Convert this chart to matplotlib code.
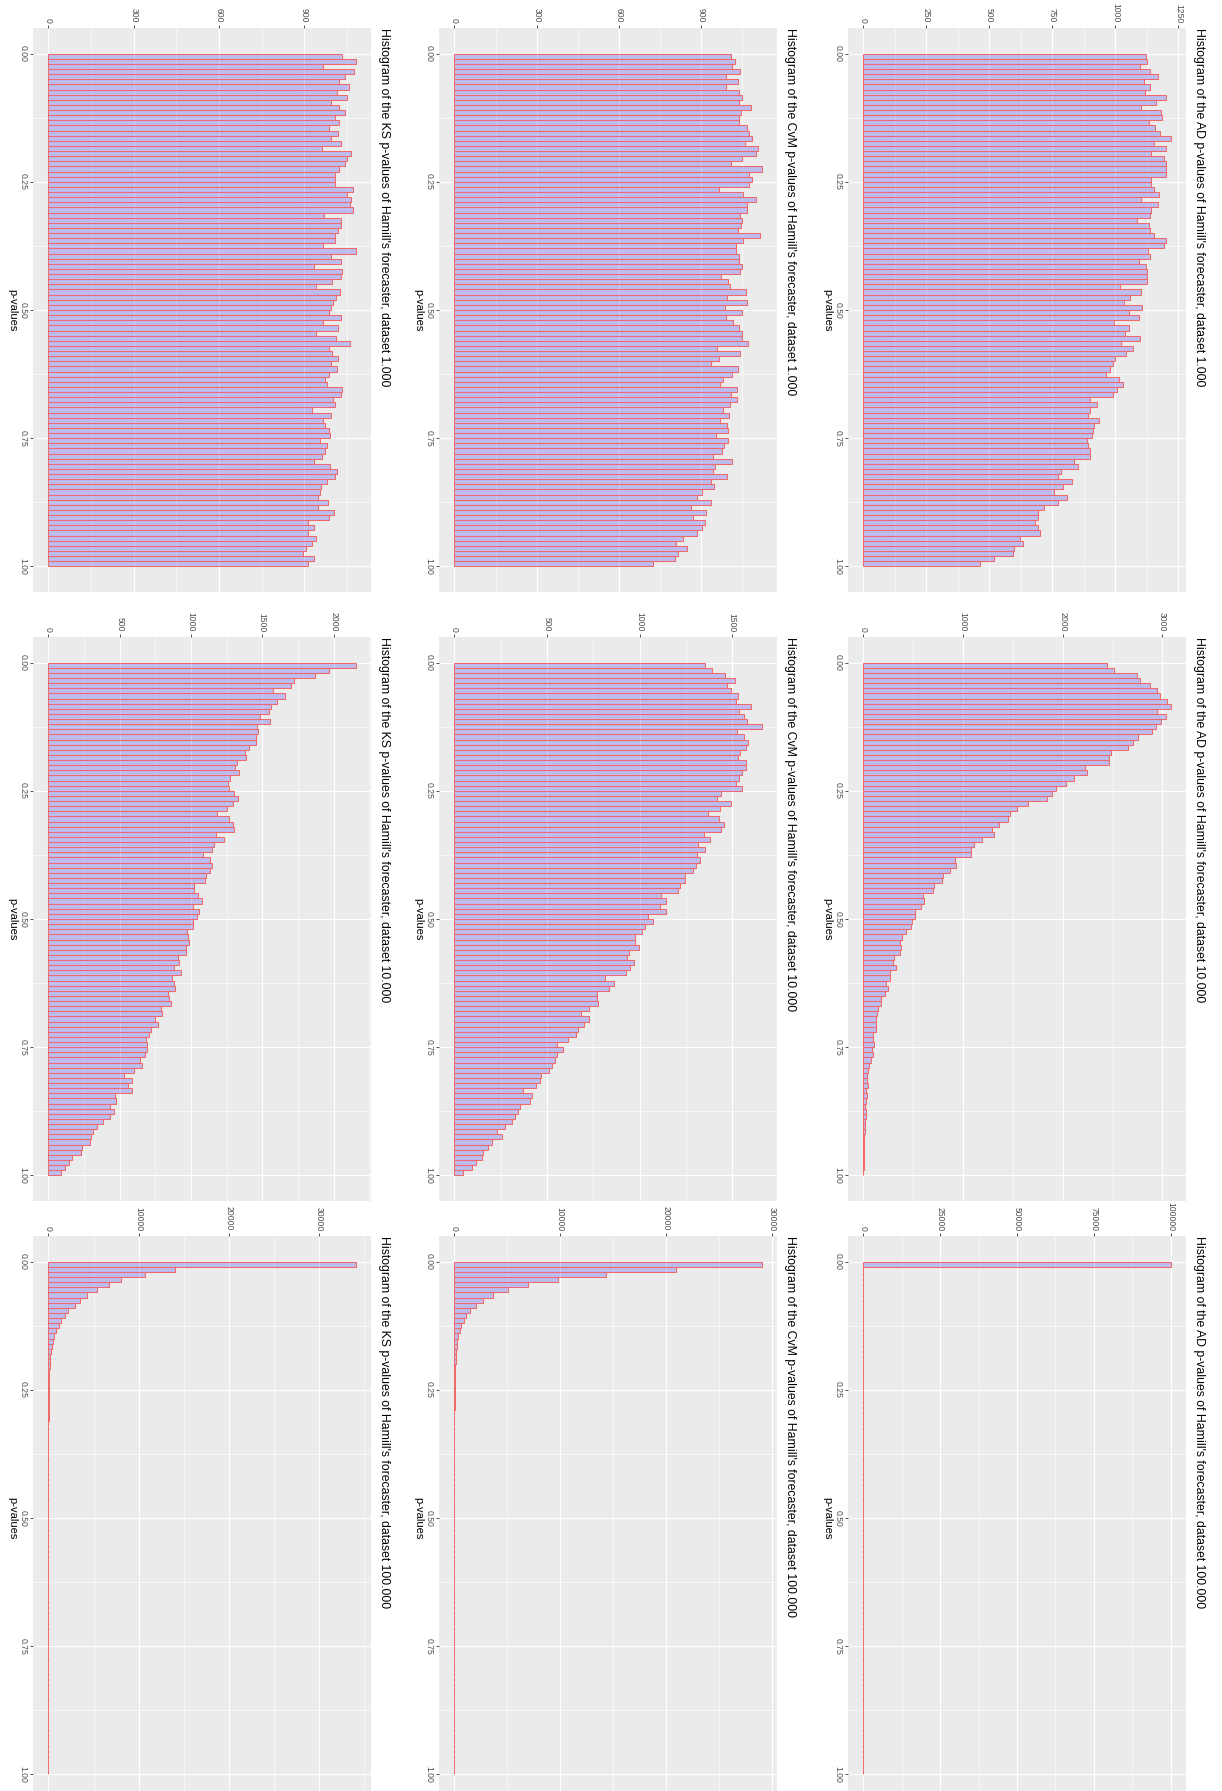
import numpy as np
import matplotlib
matplotlib.use('Agg')
import matplotlib.pyplot as plt
from matplotlib.ticker import MultipleLocator, FixedLocator, FuncFormatter

plt.rcParams['font.family'] = ['Liberation Sans', 'DejaVu Sans']

# ---------------- data (counts per p-value bin of width 0.01) ----------------
tests = ["AD", "CvM", "KS"]
sizes = ["1.000", "10.000", "100.000"]
p_ticks = [0.0, 0.25, 0.5, 0.75, 1.0]
p_tick_labels = ["0.00", "0.25", "0.50", "0.75", "1.00"]

ad_1000 = [1120, 1126, 1096, 1136, 1169, 1113, 1136, 1117, 1202, 1162,
           1100, 1179, 1186, 1133, 1157, 1177, 1219, 1153, 1202, 1143,
           1193, 1202, 1202, 1202, 1143, 1143, 1153, 1173, 1100, 1169,
           1143, 1136, 1087, 1133, 1136, 1153, 1199, 1193, 1129, 1138,
           1093, 1120, 1124, 1126, 1126, 1018, 1100, 1056, 1034, 1106,
           1053, 1093, 994, 1053, 1036, 1096, 1023, 1069, 1043, 1000,
           991, 978, 963, 1014, 1030, 1007, 990, 898, 928, 898,
           892, 935, 914, 910, 908, 888, 890, 898, 898, 837,
           851, 784, 772, 828, 791, 758, 806, 771, 716, 692,
           693, 680, 692, 702, 620, 632, 596, 594, 517, 461]

ad_10000 = [2441, 2514, 2742, 2772, 2872, 2949, 2973, 3043, 3083, 2949,
            3033, 2983, 2939, 2899, 2755, 2702, 2655, 2484, 2464, 2464,
            2223, 2243, 2112, 2029, 1932, 1892, 1838, 1650, 1537, 1476,
            1450, 1356, 1292, 1306, 1188, 1108, 1081, 1081, 924, 934,
            874, 800, 787, 713, 703, 603, 613, 579, 522, 522,
            492, 475, 432, 392, 365, 382, 365, 311, 298, 325,
            271, 264, 224, 251, 214, 177, 174, 151, 141, 124,
            127, 131, 100, 97, 107, 90, 100, 80, 60, 50,
            40, 40, 44, 27, 40, 30, 17, 30, 23, 17,
            20, 12, 10, 8, 7, 5, 4, 3, 2, 1]

ad_100000 = [99960, 28, 8, 3, 1, 0, 0, 0, 0, 0,
             0, 0, 0, 0, 0, 0, 0, 0, 0, 0,
             0, 0, 0, 0, 0, 0, 0, 0, 0, 0,
             0, 0, 0, 0, 0, 0, 0, 0, 0, 0,
             0, 0, 0, 0, 0, 0, 0, 0, 0, 0,
             0, 0, 0, 0, 0, 0, 0, 0, 0, 0,
             0, 0, 0, 0, 0, 0, 0, 0, 0, 0,
             0, 0, 0, 0, 0, 0, 0, 0, 0, 0,
             0, 0, 0, 0, 0, 0, 0, 0, 0, 0,
             0, 0, 0, 0, 0, 0, 0, 0, 0, 0]

cvm_1000 = [1007, 1023, 1011, 1041, 990, 1035, 990, 1039, 1047, 1039,
            1083, 1045, 1039, 1037, 1065, 1075, 1086, 1059, 1108, 1098,
            1047, 1007, 1120, 1075, 1086, 1075, 964, 1053, 1098, 1068,
            1068, 1041, 1047, 1043, 1035, 1114, 1051, 1025, 1025, 1039,
            1039, 1049, 1041, 972, 998, 1005, 1063, 995, 1068, 986,
            1049, 989, 1017, 1039, 1049, 1049, 1069, 956, 1041, 966,
            934, 1035, 1013, 980, 968, 1031, 1008, 1029, 1005, 980,
            1002, 968, 992, 998, 952, 996, 984, 974, 944, 1013,
            951, 944, 995, 934, 947, 901, 883, 935, 862, 918,
            871, 915, 904, 883, 834, 807, 847, 816, 805, 725]

cvm_10000 = [1353, 1388, 1460, 1513, 1469, 1491, 1529, 1520, 1601, 1538,
             1565, 1579, 1658, 1523, 1565, 1583, 1572, 1540, 1529, 1574,
             1576, 1550, 1534, 1518, 1552, 1439, 1415, 1493, 1432, 1367,
             1426, 1453, 1439, 1345, 1378, 1313, 1353, 1308, 1324, 1304,
             1288, 1245, 1246, 1216, 1207, 1115, 1142, 1110, 1142, 1043,
             1070, 1029, 1013, 975, 975, 998, 944, 930, 971, 948,
             924, 815, 863, 836, 770, 770, 773, 725, 683, 725,
             701, 669, 658, 613, 554, 585, 554, 543, 527, 511,
             468, 460, 441, 369, 419, 410, 353, 342, 329, 309,
             275, 228, 255, 201, 182, 156, 147, 117, 94, 49]

cvm_100000 = [29026, 20927, 14277, 9770, 6933, 5106, 3687, 2710, 2017, 1513,
              1135, 914, 599, 504, 378, 284, 220, 189, 150, 120,
              95, 75, 60, 48, 38, 30, 24, 19, 15, 12,
              10, 8, 6, 5, 4, 3, 3, 2, 2, 1,
              1, 1, 0, 0, 0, 0, 0, 0, 0, 0,
              0, 0, 0, 0, 0, 0, 0, 0, 0, 0,
              0, 0, 0, 0, 0, 0, 0, 0, 0, 0,
              0, 0, 0, 0, 0, 0, 0, 0, 0, 0,
              0, 0, 0, 0, 0, 0, 0, 0, 0, 0,
              0, 0, 0, 0, 0, 0, 0, 0, 0, 0]

ks_1000 = [1033, 1080, 966, 1076, 1041, 1023, 1056, 1013, 1048, 993,
           1023, 1042, 1006, 1023, 988, 1019, 992, 1030, 962, 1064,
           1050, 1041, 1023, 1006, 1006, 1009, 1070, 1050, 1063, 1061,
           1072, 968, 1029, 1027, 1019, 1006, 1009, 966, 1080, 992,
           1030, 935, 1033, 1029, 998, 941, 1026, 1012, 1001, 995,
           988, 1029, 966, 1018, 939, 1012, 1059, 988, 998, 1019,
           994, 1015, 988, 974, 978, 1033, 1029, 1001, 1006, 925,
           992, 965, 974, 988, 989, 953, 980, 972, 962, 935,
           989, 1013, 1009, 980, 960, 953, 948, 982, 948, 1003,
           988, 911, 935, 913, 941, 927, 907, 896, 934, 911]

ks_10000 = [2154, 1970, 1869, 1722, 1698, 1577, 1661, 1605, 1560, 1546,
            1483, 1553, 1464, 1467, 1457, 1457, 1406, 1378, 1385, 1324,
            1310, 1333, 1275, 1261, 1268, 1301, 1326, 1296, 1254, 1179,
            1265, 1294, 1298, 1174, 1233, 1158, 1149, 1081, 1132, 1149,
            1135, 1102, 1099, 1018, 1022, 1048, 1078, 1015, 1055, 1041,
            1015, 1015, 971, 978, 985, 964, 964, 908, 917, 884,
            929, 870, 880, 889, 837, 847, 858, 793, 798, 749,
            770, 718, 704, 685, 692, 688, 676, 643, 653, 599,
            531, 585, 557, 585, 468, 475, 433, 458, 433, 384,
            342, 311, 297, 295, 236, 232, 166, 145, 120, 91]

ks_100000 = [34036, 14058, 10655, 8028, 6696, 5401, 4291, 3478, 2923, 2220,
             1813, 1369, 1147, 814, 592, 481, 370, 296, 222, 185,
             148, 120, 100, 80, 65, 52, 42, 34, 27, 22,
             18, 14, 11, 9, 7, 6, 5, 4, 3, 2,
             2, 1, 1, 1, 0, 0, 0, 0, 0, 0,
             0, 0, 0, 0, 0, 0, 0, 0, 0, 0,
             0, 0, 0, 0, 0, 0, 0, 0, 0, 0,
             0, 0, 0, 0, 0, 0, 0, 0, 0, 0,
             0, 0, 0, 0, 0, 0, 0, 0, 0, 0,
             0, 0, 0, 0, 0, 0, 0, 0, 0, 0]

count_steps = {("AD", "1.000"): 250, ("AD", "10.000"): 1000, ("AD", "100.000"): 25000,
               ("CvM", "1.000"): 300, ("CvM", "10.000"): 500, ("CvM", "100.000"): 10000,
               ("KS", "1.000"): 300, ("KS", "10.000"): 500, ("KS", "100.000"): 10000}

series = {("AD", "1.000"): ad_1000, ("AD", "10.000"): ad_10000, ("AD", "100.000"): ad_100000,
          ("CvM", "1.000"): cvm_1000, ("CvM", "10.000"): cvm_10000, ("CvM", "100.000"): cvm_100000,
          ("KS", "1.000"): ks_1000, ("KS", "10.000"): ks_10000, ("KS", "100.000"): ks_100000}

# ---------------- layout (figure is drawn rotated 90 degrees clockwise) ----------------
W, H = 1222, 1791
PW, PH = 338, 564
col_x = {"KS": 33, "CvM": 439, "AD": 848}
row_y = {"1.000": 28, "10.000": 637, "100.000": 1236}

bin_edges = np.linspace(0, 1, 101)
fill_col = (0, 0, 1, 0.2)
edge_col = "#F06A6A"

fig = plt.figure(figsize=(W / 100, H / 100), dpi=100)
fig.patch.set_facecolor("white")

for test in tests:
    for size in sizes:
        counts = np.array(series[(test, size)], dtype=float)
        step = count_steps[(test, size)]
        x0, y0 = col_x[test], row_y[size]
        ax = fig.add_axes([x0 / W, 1 - (y0 + PH) / H, PW / W, PH / H])
        ax.set_facecolor("#EBEBEB")
        ax.barh(bin_edges[:-1], counts, height=0.01, align="edge",
                color=fill_col, edgecolor=edge_col, linewidth=0.75, zorder=3)
        m = counts.max()
        ax.set_xlim(-0.05 * m, 1.05 * m)
        ax.set_ylim(1.05, -0.05)

        ax.xaxis.tick_top()
        ax.xaxis.set_major_locator(MultipleLocator(step))
        ax.xaxis.set_minor_locator(MultipleLocator(step / 2))
        ax.xaxis.set_major_formatter(FuncFormatter(lambda v, p: f"{int(round(v))}"))
        ax.yaxis.set_major_locator(FixedLocator(p_ticks))
        ax.yaxis.set_minor_locator(FixedLocator([0.125, 0.375, 0.625, 0.875]))
        ax.set_yticklabels(p_tick_labels)

        ax.grid(which="major", color="white", linewidth=0.85, zorder=0)
        ax.grid(which="minor", color="white", linewidth=0.45, zorder=0)
        ax.set_axisbelow(True)
        for s in ax.spines.values():
            s.set_visible(False)
        ax.tick_params(which="major", length=2.5, width=0.6, color="#333333",
                       labelsize=6.2, labelcolor="#4D4D4D", pad=1.2)
        ax.tick_params(which="minor", length=0)
        for lab in ax.get_xticklabels():
            lab.set_rotation(-90)
        for lab in ax.get_yticklabels():
            lab.set_rotation(-90)
            lab.set_va("center")

        title = f"Histogram of the {test} p-values of Hamill's forecaster, dataset {size}"
        fig.text((x0 + PW + 13) / W, 1 - y0 / H, title, rotation=-90,
                 ha="center", va="top", fontsize=8.8, color="black")
        fig.text((x0 - 21) / W, 1 - (y0 + PH / 2) / H, "p-values", rotation=-90,
                 ha="center", va="center", fontsize=8, color="black")

fig.savefig("out.png", dpi=100)
